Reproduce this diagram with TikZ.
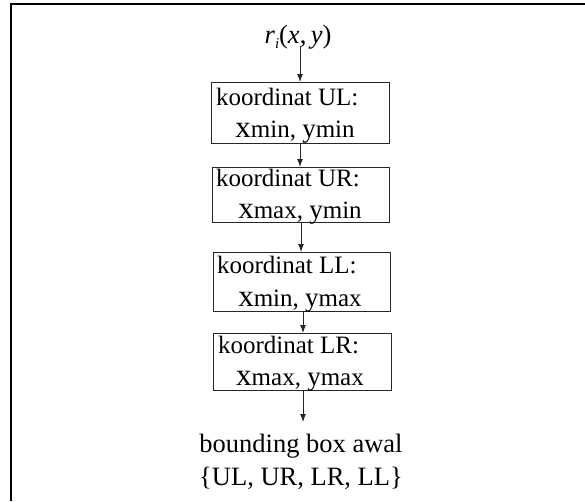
\documentclass[tikz,border=0pt]{standalone}
\usepackage{fontspec}
\setmainfont{Liberation Serif}
\usetikzlibrary{arrows.meta}
\begin{document}
\begin{tikzpicture}[x=1pt,y=-1pt,
  every node/.style={inner sep=0pt, outer sep=0pt, font=\fontsize{25}{30}\selectfont},
  boxnode/.style={draw=black!85, line width=1pt, rectangle},
  outtext/.style={font=\fontsize{26.5}{30}\selectfont},
  arr/.style={draw=black!85, line width=1pt, -{Latex[length=8pt,width=6pt]}},
  frame/.style={line width=2pt, black}]
\useasboundingbox (0,0) rectangle (585,501);
% frame (top and left edges)
\coordinate (fa) at (11,501);
\coordinate (fb) at (11,4);
\coordinate (fc) at (585,4);
\draw[frame] (fa) -- (fb) -- (fc);
% input
\node[anchor=base, outtext] (r) at (298,43) {\textit{r}\raisebox{-5pt}{\fontsize{15}{15}\selectfont\textit{i}}(\textit{x},\,\textit{y})};
% boxes
\node[boxnode, minimum width=178pt, minimum height=61pt] (b1) at (300,112.5) {};
\node[boxnode, minimum width=177pt, minimum height=55pt] (b2) at (300.5,194.5) {};
\node[boxnode, minimum width=177pt, minimum height=59pt] (b3) at (301.5,281.5) {};
\node[boxnode, minimum width=178pt, minimum height=57pt] (b4) at (302,361.5) {};
% box texts
\newcommand{\bigx}{{\fontsize{31}{30}\selectfont x}}
\newcommand{\bigy}{{\fontsize{27}{30}\selectfont y}}
\node[anchor=base west] (t1a) at (216,105) {koordinat UL:};
\node[anchor=base] (t1b) at (295,137) {\bigx min, \bigy min};
\node[anchor=base west] (t2a) at (216,186) {koordinat UR:};
\node[anchor=base] (t2b) at (300,218) {\bigx max, \bigy min};
\node[anchor=base west] (t3a) at (217,273) {koordinat LL:};
\node[anchor=base] (t3b) at (300,306) {\bigx min, \bigy max};
\node[anchor=base west] (t4a) at (218,353) {koordinat LR:};
\node[anchor=base] (t4b) at (300,385) {\bigx max, \bigy max};
% output
\node[anchor=base, outtext] (o1) at (301,452) {bounding box awal};
\node[anchor=base, outtext] (o2) at (301,485) {\{UL, UR, LR, LL\}};
\coordinate (oe) at (303,422);
% arrows
\draw[arr] ([yshift=3pt]r.south -| b1.north) -- (b1.north);
\draw[arr] (b1.south) -- (b2.north -| b1.south);
\draw[arr] ([xshift=0.5pt]b2.south) -- ([xshift=-0.5pt]b3.north);
\draw[arr] ([xshift=1.5pt]b3.south) -- ([xshift=1pt]b4.north);
\draw[arr] ([xshift=1pt]b4.south) -- (oe);
\end{tikzpicture}
\end{document}
